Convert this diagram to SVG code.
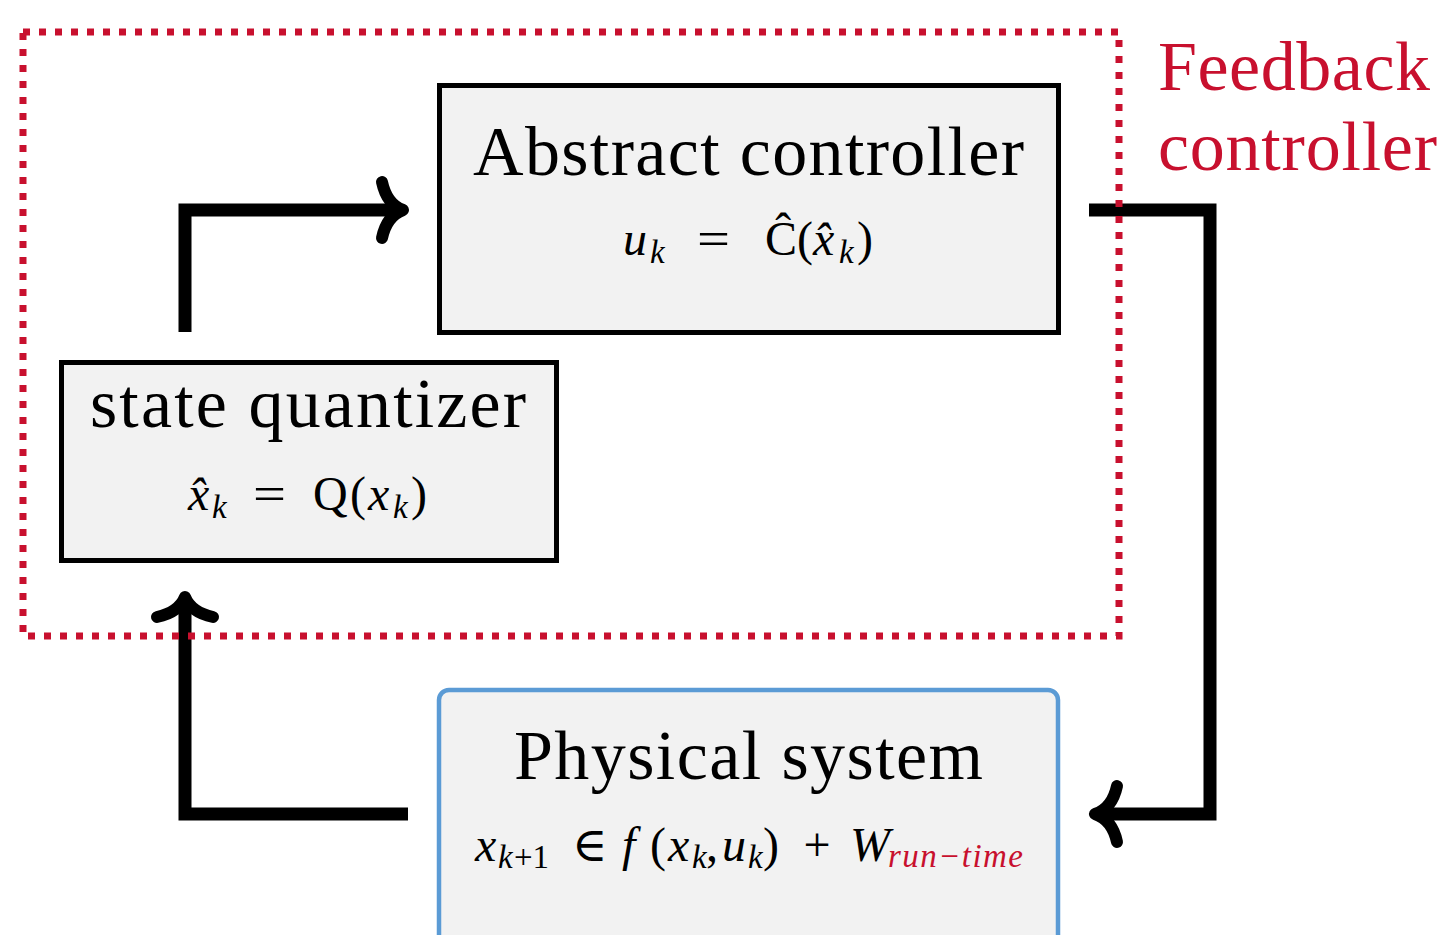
<svg xmlns="http://www.w3.org/2000/svg" width="1447" height="935" viewBox="0 0 1447 935">
<style>
.box{fill:#f2f2f2;stroke:#000;stroke-width:5}
.phys{fill:#f2f2f2;stroke:#5b9bd5;stroke-width:4.5}
.wire{fill:none;stroke:#000;stroke-width:13;stroke-linejoin:miter}
.head{fill:none;stroke:#000;stroke-width:12;stroke-linecap:round;stroke-linejoin:round}
.dots{fill:none;stroke:#c8102e;stroke-width:7;stroke-dasharray:7 9}
.t{font-family:"Liberation Serif","DejaVu Serif",serif;fill:#000}
.h{font-size:70px}
.m{font-size:48px}
.i{font-style:italic}
.s{font-size:33px}
.red{fill:#c8102e}
</style>
<rect width="1447" height="935" fill="#fff"/>
<g id="connectors">
  <path class="wire" d="M185,332 V210 H398"/>
  <path class="head" d="M382,182 C385,196 392,206 403,210 C392,214 385,224 382,238"/>
  <path class="wire" d="M1089,210 H1210 V814 H1100"/>
  <path class="head" d="M1117,786 C1114,800 1107,810 1095,814 C1107,818 1114,828 1117,842"/>
  <path class="wire" d="M408,814 H185 V602"/>
  <path class="head" d="M157,617 C171,614 181,607 185,597 C189,607 199,614 213,617"/>
</g>
<g id="abstract-controller">
  <rect class="box" x="439.5" y="85.5" width="619" height="247"/>
  <text class="t h" x="473" y="175" textLength="551">Abstract controller</text>
  <text class="t m i" x="623" y="255">u</text>
  <text class="t s i" x="650" y="263">k</text>
  <text class="t m" x="697" y="255" textLength="33" lengthAdjust="spacingAndGlyphs">=</text>
  <text class="t m" x="765" y="255">Ĉ(</text>
  <text class="t m i" x="813" y="255">x̂</text>
  <text class="t s i" x="839" y="263">k</text>
  <text class="t m" x="857" y="255">)</text>
</g>
<g id="state-quantizer">
  <rect class="box" x="61.5" y="362.5" width="495" height="198"/>
  <text class="t h" x="90" y="427" textLength="436">state quantizer</text>
  <text class="t m i" x="188" y="510">x̂</text>
  <text class="t s i" x="212" y="518">k</text>
  <text class="t m" x="253" y="510" textLength="33" lengthAdjust="spacingAndGlyphs">=</text>
  <text class="t m" x="313" y="510" font-size="50">Q</text>
  <text class="t m" x="350" y="510">(</text>
  <text class="t m i" x="368" y="510">x</text>
  <text class="t s i" x="393" y="518">k</text>
  <text class="t m" x="411" y="510">)</text>
</g>
<g id="physical-system">
  <rect class="phys" x="439" y="690" width="619" height="270" rx="10"/>
  <text class="t h" x="514" y="779" textLength="469">Physical system</text>
  <text class="t m i" x="475" y="861">x</text>
  <text class="t s i" x="498" y="868">k</text>
  <text class="t s" x="514" y="868">+1</text>
  <text class="t m" x="572" y="861">∈</text>
  <text class="t m i" x="622" y="861">f</text>
  <text class="t m" x="650" y="861">(</text>
  <text class="t m i" x="668" y="861">x</text>
  <text class="t s i" x="692" y="868">k</text>
  <text class="t m" x="706" y="861">,</text>
  <text class="t m i" x="722" y="861">u</text>
  <text class="t s i" x="748" y="868">k</text>
  <text class="t m" x="763" y="861">)</text>
  <text class="t m" x="817" y="861" text-anchor="middle">+</text>
  <text class="t m i" x="850" y="861">W</text>
  <text class="t s i red" x="888" y="867" textLength="135">run−time</text>
</g>
<g id="feedback-controller">
  <rect class="dots" x="23" y="32" width="1096" height="604"/>
  <text class="t h red" x="1158" y="90" textLength="272">Feedback</text>
  <text class="t h red" x="1158" y="170" textLength="279">controller</text>
</g>
</svg>
